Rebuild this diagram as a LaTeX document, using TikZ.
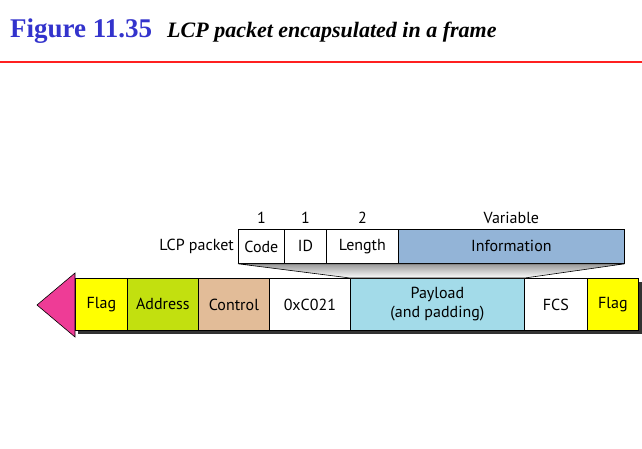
\documentclass[tikz,border=0pt]{standalone}
\usepackage{fontspec}
\setmainfont{Liberation Serif}
\newfontfamily\boxfont{PT Sans}
\usetikzlibrary{shadings}
\definecolor{flagY}{HTML}{FFFF00}
\definecolor{addrG}{HTML}{C2E00F}
\definecolor{ctrlT}{HTML}{E2BC98}
\definecolor{payB}{HTML}{A3DBE9}
\definecolor{infoB}{HTML}{93B4D7}
\definecolor{arrowP}{HTML}{EE3C96}
\definecolor{titleB}{HTML}{3333CC}
\definecolor{lineR}{HTML}{FF2020}
\definecolor{shadowG}{HTML}{333333}
\begin{document}
\begin{tikzpicture}[x=1pt,y=-1pt,
  fld/.style={draw=black,line width=0.8pt,inner sep=0pt,anchor=north west,font=\boxfont\fontsize{16}{18}\selectfont,align=center},
  lbl/.style={font=\boxfont\fontsize{16}{18}\selectfont,inner sep=0pt}]
\useasboundingbox (0,0) rectangle (642,449);
% title
\node[anchor=base west,inner sep=0pt,text=titleB,font=\fontsize{27}{29}\selectfont\bfseries] (fig) at (10,38) {Figure 11.35};
\node[anchor=base west,inner sep=0pt,font=\fontsize{22}{24}\selectfont\bfseries\itshape] (cap) at (167,38) {LCP packet encapsulated in a frame};
\draw[lineR,line width=1.2pt] (0,62) -- (642,62);
% shadow
\fill[shadowG] (78,282) rectangle (642,334);
% frame fields
\node[fld,fill=flagY,minimum width=52pt,minimum height=52pt] (flag1) at (75,278) {Flag};
\node[fld,fill=addrG,minimum width=71pt,minimum height=52pt] (addr) at (127,278) {Address};
\node[fld,fill=ctrlT,minimum width=71pt,minimum height=52pt] (ctrl) at (198,278) {Control};
\node[fld,fill=white,minimum width=81pt,minimum height=52pt] (proto) at (269,278) {0xC021};
\node[fld,fill=payB,minimum width=174pt,minimum height=52pt] (pay) at (350,278) {Payload\\[1pt](and padding)};
\node[fld,fill=white,minimum width=63pt,minimum height=52pt] (fcs) at (524,278) {FCS};
\node[fld,fill=flagY,minimum width=51pt,minimum height=52pt] (flag2) at (587,278) {Flag};
% arrow head
\fill[arrowP,draw=black,line width=0.6pt] (75,273) -- (37,305) -- (75,337) -- cycle;
% LCP packet
\node[fld,fill=white,minimum width=46pt,minimum height=34pt] (code) at (238,229) {Code};
\node[fld,fill=white,minimum width=42pt,minimum height=34pt] (id) at (284,229) {ID};
\node[fld,fill=white,minimum width=72pt,minimum height=34pt] (len) at (326,229) {Length};
\node[fld,fill=infoB,minimum width=226pt,minimum height=34pt] (info) at (398,229) {Information};
% trapezoid
\shade[top color=gray!80,bottom color=white,draw=black,line width=0.6pt] (code.south west) -- (info.south east) -- (pay.north east) -- (pay.north west) -- cycle;
\node[lbl,anchor=east] (lcp) at (234,246) {LCP packet};
\node[lbl,anchor=base] (s1) at (code.north |- 0,223) {1};
\node[lbl,anchor=base] (s2) at (id.north |- 0,223) {1};
\node[lbl,anchor=base] (s3) at (len.north |- 0,223) {2};
\node[lbl,anchor=base] (s4) at (info.north |- 0,223) {Variable};
\end{tikzpicture}
\end{document}
